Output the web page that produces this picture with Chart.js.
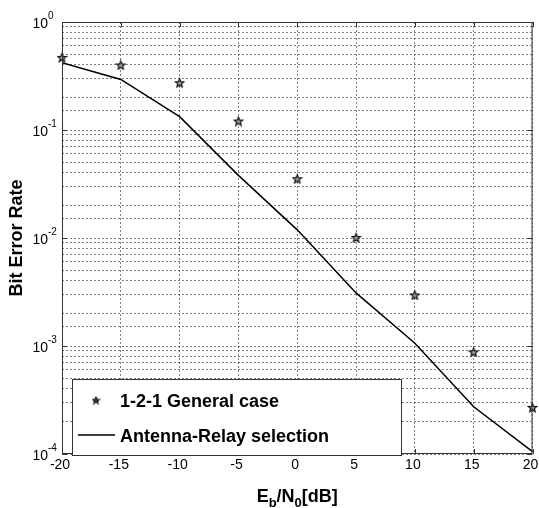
<!DOCTYPE html>
<html>
<head>
<meta charset="utf-8">
<script src="https://cdn.jsdelivr.net/npm/chart.js@4/dist/chart.umd.min.js"></script>
<style>
  html, body { margin: 0; padding: 0; background: #fff; }
  #wrap { width: 539px; height: 508px; position: relative; }
</style>
</head>
<body>
<div id="wrap"><canvas id="c" width="539" height="508"></canvas></div>
<script>
// Eb/N0 in dB
const snr = [-20, -15, -10, -5, 0, 5, 10, 15, 20];
// BER
const berGeneral   = [0.47, 0.40, 0.274, 0.121, 0.0354, 0.0101, 0.00297, 0.00088, 0.00027];
const berSelection = [0.42, 0.294, 0.133, 0.038, 0.0119, 0.0031, 0.00106, 0.000274, 0.000105];
const xTicks = [-20, -15, -10, -5, 0, 5, 10, 15, 20];
const yExps  = [0, -1, -2, -3, -4];
const seriesNames = ['1-2-1 General case', 'Antenna-Relay selection'];

const FONT = '"Liberation Sans", Arial, sans-serif';

// pentagram marker like matlab 'p'
function makeStar(size, fill) {
  const cv = document.createElement('canvas');
  cv.width = size; cv.height = size;
  const g = cv.getContext('2d');
  const cx = size / 2, cy = size / 2 + 0.5, R = size / 2 - 1, r = R * 0.45;
  g.beginPath();
  for (let i = 0; i < 10; i++) {
    const a = -Math.PI / 2 + i * Math.PI / 5;
    const rr = i % 2 ? r : R;
    const px = cx + rr * Math.cos(a), py = cy + rr * Math.sin(a);
    i ? g.lineTo(px, py) : g.moveTo(px, py);
  }
  g.closePath();
  g.fillStyle = fill;
  g.fill();
  g.lineWidth = 1.2;
  g.strokeStyle = '#111';
  g.stroke();
  return cv;
}
const starImg = makeStar(11, '#999');
const starSmall = makeStar(9, '#444');

const axesDeco = {
  id: 'axesDeco',
  afterDraw(chart) {
    const { ctx, chartArea: a, scales } = chart;
    const xs = scales.x, ys = scales.y;
    ctx.save();

    // frame
    ctx.strokeStyle = '#333';
    ctx.lineWidth = 1;
    ctx.strokeRect(a.left + 0.5, a.top + 0.5, a.right - a.left - 1, a.bottom - a.top - 1);

    // inward tick marks
    ctx.beginPath();
    xTicks.forEach(v => {
      const px = Math.round(xs.getPixelForValue(v)) + 0.5;
      ctx.moveTo(px, a.bottom); ctx.lineTo(px, a.bottom - 5);
      ctx.moveTo(px, a.top);    ctx.lineTo(px, a.top + 5);
    });
    yExps.forEach(e => {
      const py = Math.round(ys.getPixelForValue(Math.pow(10, e))) + 0.5;
      ctx.moveTo(a.left, py);  ctx.lineTo(a.left + 5, py);
      ctx.moveTo(a.right, py); ctx.lineTo(a.right - 5, py);
    });
    ctx.stroke();

    // x tick labels
    ctx.fillStyle = '#000';
    ctx.font = '14px ' + FONT;
    ctx.textAlign = 'center';
    ctx.textBaseline = 'top';
    xTicks.forEach(v => ctx.fillText(String(v), xs.getPixelForValue(v) - 2, a.bottom + 4));

    // y tick labels 10^n
    yExps.forEach(e => {
      const py = ys.getPixelForValue(Math.pow(10, e));
      ctx.textAlign = 'right';
      ctx.textBaseline = 'middle';
      ctx.font = '14px ' + FONT;
      const baseRight = 48;
      ctx.fillText('10', baseRight, py + 2);
      ctx.textAlign = 'left';
      ctx.font = '10px ' + FONT;
      ctx.fillText(String(e), baseRight, py - 6);
    });

    // x axis title  E_b/N_0[dB]
    ctx.textBaseline = 'alphabetic';
    ctx.textAlign = 'left';
    const parts = [['E', 0], ['b', 1], ['/N', 0], ['0', 1], ['[dB]', 0]];
    const subFont = 'bold 13px ' + FONT, mainFont = 'bold 18px ' + FONT;
    let w = 0;
    parts.forEach(([t, s]) => { ctx.font = s ? subFont : mainFont; w += ctx.measureText(t).width; });
    let x = (a.left + a.right) / 2 - w / 2;
    const base = 502;
    parts.forEach(([t, s]) => {
      ctx.font = s ? subFont : mainFont;
      ctx.fillText(t, x, s ? base + 5 : base);
      x += ctx.measureText(t).width;
    });

    // y axis title
    ctx.save();
    ctx.translate(22, (a.top + a.bottom) / 2);
    ctx.rotate(-Math.PI / 2);
    ctx.font = 'bold 18px ' + FONT;
    ctx.textAlign = 'center';
    ctx.textBaseline = 'alphabetic';
    ctx.fillText('Bit Error Rate', 0, 0);
    ctx.restore();

    // legend box
    const lx = 72, ly = 379, lw = 329, lh = 76;
    ctx.fillStyle = '#fff';
    ctx.fillRect(lx, ly, lw, lh);
    ctx.strokeStyle = '#333';
    ctx.lineWidth = 1;
    ctx.strokeRect(lx + 0.5, ly + 0.5, lw, lh);
    ctx.drawImage(starSmall, 96 - 4.5, 400 - 4.5);
    ctx.strokeStyle = '#000';
    ctx.lineWidth = 1.5;
    ctx.beginPath();
    ctx.moveTo(78, 435); ctx.lineTo(115, 435);
    ctx.stroke();
    ctx.fillStyle = '#000';
    ctx.font = 'bold 18px ' + FONT;
    ctx.textAlign = 'left';
    ctx.textBaseline = 'alphabetic';
    ctx.fillText(seriesNames[0], 120, 407);
    ctx.fillText(seriesNames[1], 120, 442);

    ctx.restore();
  }
};

const gridStyle = {
  color: 'rgba(0,0,0,0.5)',
  lineWidth: 1,
  drawTicks: false,
};

new Chart(document.getElementById('c'), {
  type: 'scatter',
  data: {
    datasets: [
      {
        label: seriesNames[0],
        data: snr.map((x, i) => ({ x, y: berGeneral[i] })),
        showLine: false,
        pointStyle: starImg,
        pointRadius: 5.5,
        clip: false,
      },
      {
        label: seriesNames[1],
        data: snr.map((x, i) => ({ x, y: berSelection[i] })),
        showLine: true,
        borderColor: '#000',
        borderWidth: 1.5,
        pointRadius: 0,
        tension: 0,
      },
    ],
  },
  options: {
    responsive: false,
    animation: false,
    layout: { padding: { left: 62, top: 22, right: 3, bottom: 54 } },
    plugins: {
      legend: { display: false },
      tooltip: { enabled: false },
    },
    scales: {
      x: {
        type: 'linear',
        min: -20, max: 20,
        ticks: { display: false, stepSize: 5 },
        grid: gridStyle,
        border: { display: false, dash: [2, 2] },
      },
      y: {
        type: 'logarithmic',
        min: 1e-4, max: 1,
        ticks: { display: false },
        grid: gridStyle,
        border: { display: false, dash: [2, 2] },
      },
    },
  },
  plugins: [axesDeco],
});
</script>
</body>
</html>
